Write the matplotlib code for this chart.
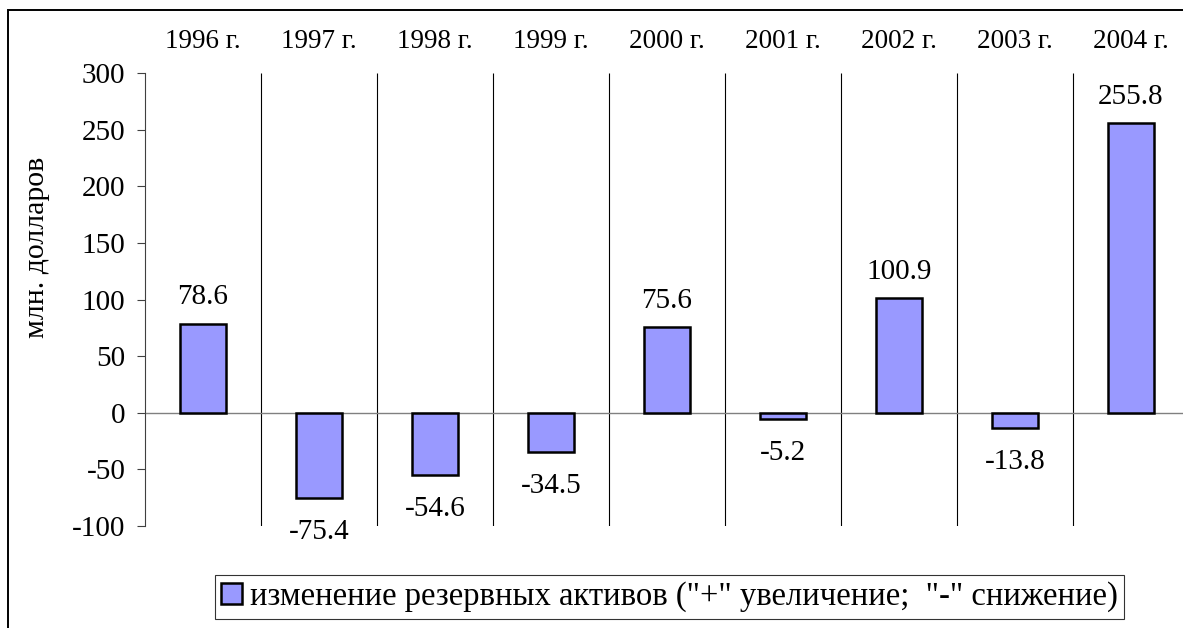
import matplotlib
matplotlib.use("Agg")
import matplotlib.pyplot as plt
from matplotlib.patches import Rectangle

plt.rcParams["font.family"] = ["Liberation Serif", "DejaVu Serif"]

years = ["1996 г.", "1997 г.", "1998 г.", "1999 г.", "2000 г.",
         "2001 г.", "2002 г.", "2003 г.", "2004 г."]
values = [78.6, -75.4, -54.6, -34.5, 75.6, -5.2, 100.9, -13.8, 255.8]
y_ticks = [-100, -50, 0, 50, 100, 150, 200, 250, 300]
series_name = 'изменение резервных активов ("+" увеличение;  "-" снижение)'

W, H = 1183, 628
fig = plt.figure(figsize=(W / 100, H / 100), dpi=100)

# plot area runs a little past the right edge, like the source picture
ax = fig.add_axes([145 / W, (H - 526) / H, 1044 / W, 453 / H])

x = list(range(len(years)))
ax.bar(x, values, width=0.4, color="#9999FF", edgecolor="black", linewidth=1.8, zorder=3)

ax.set_xlim(-0.5, len(years) - 0.5)
ax.set_ylim(-100, 300)

# category separators
ax.vlines([i + 0.5 for i in x[:-1]], -100, 300, color="black", linewidth=0.8, zorder=1)
ax.axhline(0, color="#808080", linewidth=1.0, zorder=2)

ax.set_yticks(y_ticks)
ax.set_yticklabels([str(v) for v in y_ticks], fontsize=21)
ax.tick_params(axis="y", direction="out", length=6, width=0.8, color="#404040", pad=8)

ax.set_xticks(x)
ax.set_xticklabels(years, fontsize=19.5)
ax.tick_params(axis="x", length=0, labeltop=True, labelbottom=False, pad=14)

for s in ["top", "right", "bottom"]:
    ax.spines[s].set_visible(False)
ax.spines["left"].set_color("#404040")
ax.spines["left"].set_linewidth(0.8)

for xi, v in zip(x, values):
    if v >= 0:
        ax.annotate(f"{v:.1f}", (xi, v), xytext=(0, 14), textcoords="offset points",
                    ha="center", va="baseline", fontsize=21)
    else:
        ax.annotate(f"{v:.1f}", (xi, v), xytext=(0, -29.5), textcoords="offset points",
                    ha="center", va="baseline", fontsize=21)

fig.text(37 / W, 1 - 247 / H, "млн. долларов", rotation=90, ha="center", va="center",
         fontsize=21.5)

leg_handle = Rectangle((0, 0), 1, 1, facecolor="#9999FF", edgecolor="black", linewidth=1.8)
leg = fig.legend([leg_handle], [series_name], loc="center",
                 bbox_to_anchor=(669.5 / W, 1 - 597 / H),
                 prop={"family": ["Liberation Serif"], "size": 23.5},
                 frameon=True, fancybox=False, shadow=False,
                 handlelength=0.64, handleheight=0.64, handletextpad=0.25,
                 borderpad=0.2, borderaxespad=0)
leg.get_frame().set_edgecolor("black")
leg.get_frame().set_linewidth(0.8)

# outer chart frame
fig.patches.append(Rectangle((8 / W, -0.05), 1.1, 1 - 10 / H + 0.05, transform=fig.transFigure,
                             fill=False, edgecolor="black", linewidth=1.4))

fig.savefig("out.png", dpi=100)
